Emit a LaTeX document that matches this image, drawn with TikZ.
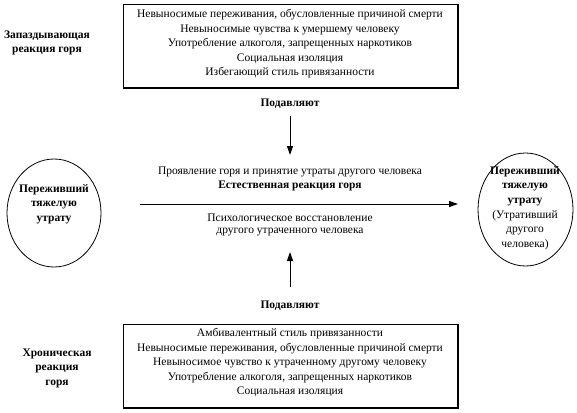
\documentclass[tikz,border=0pt]{standalone}
\usepackage{fontspec}
\setmainfont{Liberation Serif}
\usetikzlibrary{arrows.meta,shapes.geometric}
\begin{document}
\begin{tikzpicture}[x=1pt,y=-1pt,
  txt/.style={inner sep=0pt,font=\fontsize{11.5}{14.5}\selectfont,align=center},
  btxt/.style={inner sep=0pt,font=\fontsize{11.5}{14.5}\selectfont\bfseries,align=center},
  boxframe/.style={draw,line width=0.8pt},
  oval/.style={draw,ellipse,line width=0.8pt,inner sep=0pt},
  arr/.style={line width=1pt,-{Triangle[length=9pt,width=6pt]}}]
\useasboundingbox (0,0) rectangle (577,412);
% top box
\node[boxframe,minimum width=334pt,minimum height=83pt,anchor=north west] (topbox) at (123,4) {};
\draw[line width=1.6pt] (topbox.north east) -- (topbox.south east) -- (topbox.south west);
\node[txt] (t1) at (290,15) {Невыносимые переживания, обусловленные причиной смерти};
\node[txt] (t2) at (290,29.5) {Невыносимые чувства к умершему человеку};
\node[txt] (t3) at (290,44) {Употребление алкоголя, запрещенных наркотиков};
\node[txt] (t4) at (290,58.5) {Социальная изоляция};
\node[txt] (t5) at (290,73) {Избегающий стиль привязанности};
% bottom box
\node[boxframe,minimum width=334pt,minimum height=83pt,anchor=north west] (botbox) at (123,324) {};
\draw[line width=1.6pt] (botbox.north east) -- (botbox.south east) -- (botbox.south west);
\node[txt] (b1) at (290,334) {Амбивалентный стиль привязанности};
\node[txt] (b2) at (290,348.5) {Невыносимые переживания, обусловленные причиной смерти};
\node[txt] (b3) at (290,363) {Невыносимое чувство к утраченному другому человеку};
\node[txt] (b4) at (290,377.5) {Употребление алкоголя, запрещенных наркотиков};
\node[txt] (b5) at (290,392) {Социальная изоляция};
% side labels
\node[btxt] (late) at (47,43) {Запаздывающая\\реакция горя};
\node[btxt] (chron) at (57,368) {Хроническая\\реакция\\горя};
% suppress labels
\node[btxt] (sup1) at (290,104) {Подавляют};
\node[btxt] (sup2) at (290,306) {Подавляют};
\coordinate (d1) at (290,116);
\coordinate (d2) at (290,155);
\coordinate (u1) at (290,287);
\coordinate (u2) at (290,252);
\draw[arr] (d1) -- (d2);
\draw[arr] (u1) -- (u2);
% middle texts
\node[txt] (m1) at (290,172) {Проявление горя и принятие утраты другого человека};
\node[btxt] (m2) at (290,186) {Естественная реакция горя};
\node[txt] (m3) at (290,218) {Психологическое восстановление};
\node[txt] (m4) at (290,232.5) {другого утраченного человека};
% ellipses
\node[oval,minimum width=94pt,minimum height=108pt] (left) at (54,213) {};
\node[btxt] (lt) at (54,204) {Переживший\\тяжелую\\утрату};
\node[oval,minimum width=95pt,minimum height=113pt] (right) at (525.5,209.5) {};
\node[btxt] (rt) at (525,186) {Переживший\\тяжелую\\утрату};
\node[txt] (rt2) at (525,230) {(Утративший\\другого\\человека)};
% main arrow
\coordinate (h1) at (140,204);
\coordinate (h2) at (458,204);
\draw[arr] (h1) -- (h2);
\end{tikzpicture}
\end{document}
